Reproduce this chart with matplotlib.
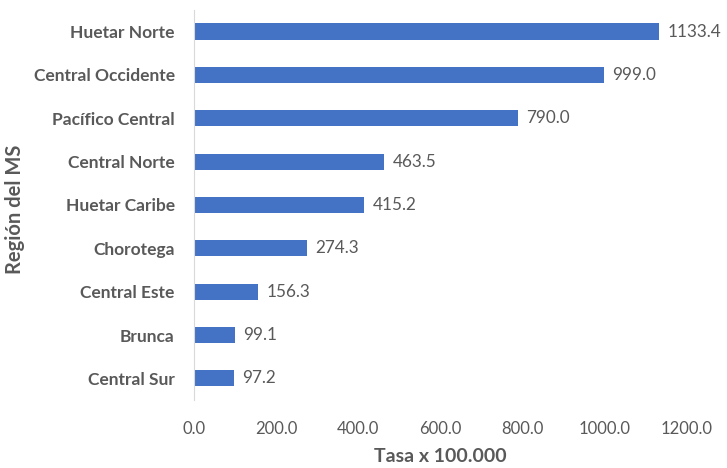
import matplotlib.pyplot as plt

regiones = ["Huetar Norte", "Central Occidente", "Pacífico Central", "Central Norte",
            "Huetar Caribe", "Chorotega", "Central Este", "Brunca", "Central Sur"]
tasas = [1133.4, 999.0, 790.0, 463.5, 415.2, 274.3, 156.3, 99.1, 97.2]
xticks = [0, 200, 400, 600, 800, 1000, 1200]

plt.rcParams["font.family"] = ["Lato", "DejaVu Sans"]
gris = "#595959"

fig = plt.figure(figsize=(7.27, 4.68), dpi=100)
ax = fig.add_axes([0.267, 0.145, 0.677, 0.834])

pos = list(range(len(regiones)))[::-1]
ax.barh(pos, tasas, height=0.37, color="#4472C4")

for p, v in zip(pos, tasas):
    ax.annotate(f"{v:.1f}", (v, p), xytext=(6, 0), textcoords="offset points",
                ha="left", va="center", fontsize=12.3, color=gris)

ax.set_xlim(0, 1200)
ax.set_ylim(-0.5, len(regiones) - 0.5)
ax.set_yticks(pos)
ax.set_yticklabels(regiones, fontsize=12.5, fontweight="bold", color=gris)
ax.set_xticks(xticks)
ax.set_xticklabels([f"{t:.1f}" for t in xticks], fontsize=12, color=gris)
ax.tick_params(axis="both", length=0)
ax.tick_params(axis="y", pad=14)
ax.tick_params(axis="x", pad=15)

for s in ["top", "right", "bottom"]:
    ax.spines[s].set_visible(False)
ax.spines["left"].set_color("#d9d9d9")

ax.set_xlabel("Tasa x 100.000", fontsize=14, fontweight="bold", color=gris, labelpad=8)
ax.set_ylabel("Región del MS", fontsize=14.5, fontweight="bold", color=gris)
ax.yaxis.set_label_coords(-0.343, 0.49)

plt.savefig("out.png", dpi=100)
